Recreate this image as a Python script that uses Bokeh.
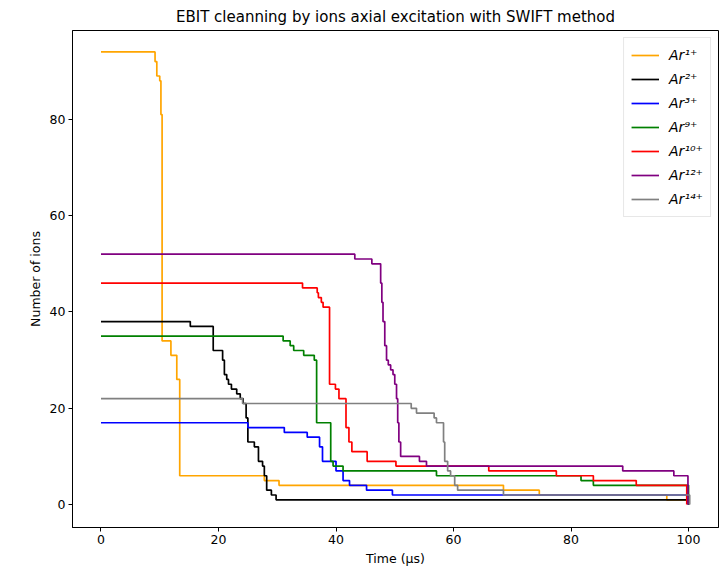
from bokeh.plotting import figure
from bokeh.models import FixedTicker, Range1d, Legend
from bokeh.embed import file_html
from bokeh.resources import INLINE

# ---- data (time in µs, number of ions) ----
t_ar1 = [0, 9.2, 9.5, 10.0, 10.2, 10.4, 11.9, 12.9, 13.4, 27.8, 30.3, 68.5, 74.6, 96.3, 100.0]
n_ar1 = [94, 92, 89, 88, 81, 34, 31, 26, 6, 5, 4, 3, 2, 1, 0]

t_ar2 = [0, 15.2, 19.1, 20.7, 21.0, 21.4, 21.7, 22.2, 23.1, 23.7, 24.2, 24.7, 25.0, 26.1, 26.8,
         27.5, 27.8, 28.2, 29.0, 29.8, 100.0]
n_ar2 = [38, 37, 32, 30, 27, 26, 25, 24, 23, 22, 21, 18, 13, 12, 9, 8, 6, 3, 2, 1, 0]

t_ar3 = [0, 25.0, 31.2, 35.1, 37.2, 37.7, 40.0, 41.2, 42.3, 45.2, 49.6, 100.0]
n_ar3 = [17, 16, 15, 14, 12, 9, 7, 5, 4, 3, 2, 0]

t_ar9 = [0, 31.0, 32.2, 32.8, 34.5, 36.3, 36.7, 39.1, 39.5, 41.2, 57.1, 81.7, 83.8, 100.0]
n_ar9 = [35, 34, 33, 32, 31, 30, 17, 9, 8, 7, 6, 5, 4, 0]

t_ar10 = [0, 34.3, 36.8, 37.0, 37.5, 37.8, 38.9, 39.9, 40.5, 41.7, 42.2, 42.7, 45.3, 50.2,
          66.0, 77.5, 83.8, 91.1, 99.7]
n_ar10 = [46, 45, 44, 43, 42, 41, 25, 24, 22, 16, 13, 11, 9, 8, 7, 6, 5, 4, 0]

t_ar12 = [0, 43.2, 46.1, 47.6, 47.8, 48.0, 48.3, 48.6, 48.9, 49.3, 49.7, 50.0, 50.3, 50.5,
          50.7, 51.0, 54.2, 55.4, 88.8, 97.5, 99.9]
n_ar12 = [52, 51, 50, 46, 42, 38, 33, 30, 29, 28, 27, 25, 22, 17, 13, 10, 9, 8, 7, 6, 0]

t_ar14 = [0, 24.1, 52.8, 53.7, 56.7, 57.1, 58.3, 58.5, 59.0, 59.5, 60.2, 60.7, 68.5, 100.2]
n_ar14 = [22, 21, 20, 19, 18, 17, 13, 9, 7, 6, 4, 3, 2, 0]

labels = ["Ar¹⁺", "Ar²⁺", "Ar³⁺", "Ar⁹⁺", "Ar¹⁰⁺", "Ar¹²⁺", "Ar¹⁴⁺"]
colors = ["#FFA500", "#000000", "#0000FF", "#008000", "#FF0000", "#800080", "#808080"]
series = [(t_ar1, n_ar1), (t_ar2, n_ar2), (t_ar3, n_ar3), (t_ar9, n_ar9),
          (t_ar10, n_ar10), (t_ar12, n_ar12), (t_ar14, n_ar14)]

x_ticks = [0, 20, 40, 60, 80, 100]
y_ticks = [0, 20, 40, 60, 80]

FONT = "DejaVu Sans"

p = figure(frame_width=646, frame_height=497,
           x_range=Range1d(-4.85, 105.1), y_range=Range1d(-4.75, 98.45),
           output_backend="svg", toolbar_location=None,
           title="EBIT cleanning by ions axial excitation with SWIFT method",
           min_border_left=72, min_border_right=2, min_border_top=0, min_border_bottom=42)

p.title.text_font = FONT
p.title.text_font_size = "15px"
p.title.text_font_style = "normal"
p.title.align = "center"
p.title.text_color = "#000000"

renderers = []
for (t, n), c, lab in zip(series, colors, labels):
    r = p.step(t, n, mode="after", line_color=c, line_width=1.7)
    renderers.append((lab, [r]))

legend = Legend(items=renderers, location="top_right")
legend.label_text_font = FONT
legend.label_text_font_size = "14px"
legend.label_text_font_style = "italic"
legend.label_text_color = "#000000"
legend.glyph_width = 28
legend.glyph_height = 20
legend.label_height = 20
legend.label_standoff = 10
legend.spacing = 4
legend.padding = 7
legend.margin = 7
legend.border_line_color = "#d0d0d0"
legend.border_line_width = 1
legend.background_fill_alpha = 0.9
p.add_layout(legend, "center")

p.xaxis.ticker = FixedTicker(ticks=x_ticks)
p.yaxis.ticker = FixedTicker(ticks=y_ticks)
p.xaxis.axis_label = "Time (µs)"
p.yaxis.axis_label = "Number of ions"
for ax in (p.xaxis, p.yaxis):
    ax.axis_label_text_font = FONT
    ax.axis_label_text_font_size = "12.5px"
    ax.axis_label_text_font_style = "normal"
    ax.axis_label_text_color = "#000000"
    ax.major_label_text_font = FONT
    ax.major_label_text_font_size = "12.5px"
    ax.major_label_text_color = "#000000"
    ax.major_tick_in = 0
    ax.major_tick_out = 4
    ax.minor_tick_in = 0
    ax.minor_tick_out = 0
    ax.axis_line_color = "#000000"
    ax.major_tick_line_color = "#000000"
    ax.major_label_standoff = 3
    ax.axis_label_standoff = 4

p.xgrid.visible = False
p.ygrid.visible = False
p.outline_line_color = "#000000"
p.outline_line_width = 1

open("out.html", "w").write(file_html(p, INLINE))
